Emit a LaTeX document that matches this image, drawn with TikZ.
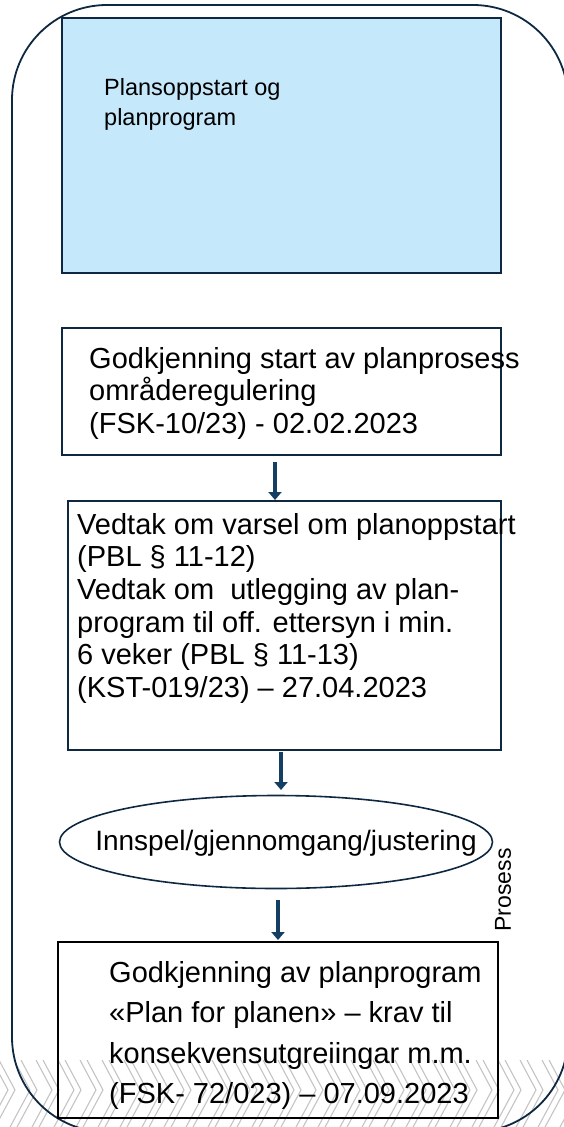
\documentclass[tikz,border=0pt]{standalone}
\usepackage{fontspec}
\setmainfont{Liberation Sans}
\usetikzlibrary{arrows.meta,shapes.geometric}
\definecolor{navy}{HTML}{0E2841}
\definecolor{lightblue}{HTML}{C5E8FA}
\definecolor{arrowblue}{HTML}{153E63}
\definecolor{hatchgray}{HTML}{C4C4C4}
\begin{document}
\begin{tikzpicture}[x=1pt,y=-1pt,
  procbox/.style={draw=navy, line width=1.6pt, inner sep=0pt},
  txt/.style={anchor=north west, inner sep=0pt, align=left},
  bigfont/.style={font=\fontsize{29}{32.6}\selectfont},
  flowarrow/.style={draw=arrowblue, line width=4.5pt, -{Triangle[width=13pt,length=8pt]}},
  hatchline/.style={draw=hatchgray, line width=1.1pt}]
\useasboundingbox (0,0) rectangle (564,1127);
% hatch band
\begin{scope}
\clip (0,1060) rectangle (564,1127);
\foreach \x in {-30,-8,...,580}{
  \draw[hatchline] (\x,1060) -- (\x+16,1090) -- (\x-5,1129);
  \draw[hatchline] (\x+7,1060) -- (\x+23,1090) -- (\x+2,1129);
}
\end{scope}
% outer frame
\draw[navy, line width=1.8pt, rounded corners=95pt] (12,5) rectangle (568,1132);
% boxes
\node[procbox, fill=lightblue, minimum width=439pt, minimum height=255pt] (b1) at (281.5,145.5) {};
\node[txt, font=\fontsize{23.5}{30.5}\selectfont] (t1) at (104,70) {\rule{0pt}{25pt}Plansoppstart og\\planprogram};
\node[procbox, minimum width=439pt, minimum height=127pt] (b2) at (281.5,391.5) {};
\node[txt, bigfont] (t2) at (89,343) {\rule{0pt}{25pt}Godkjenning start av planprosess\\områderegulering\\(FSK-10/23) - 02.02.2023};
\node[procbox, minimum width=433pt, minimum height=249pt] (b3) at (284.5,625.5) {};
\node[txt, bigfont] (t3) at (77,509) {\rule{0pt}{25pt}Vedtak om varsel om planoppstart\\(PBL § 11-12)\\Vedtak om~~utlegging av plan-\\program til off. ettersyn i min.\\6 veker (PBL § 11-13)\\(KST-019/23) – 27.04.2023};
\node[ellipse, draw=navy, line width=1.6pt, inner sep=0pt, minimum width=433pt, minimum height=93pt] (e) at (276,842) {};
\node[inner sep=0pt, font=\fontsize{28}{32}\selectfont] (te) at (286,843) {Innspel/gjennomgang/justering};
\node[rotate=90, inner sep=0pt, font=\fontsize{23}{27}\selectfont] (pr) at (503,890) {Prosess};
\node[draw=black, line width=1.8pt, inner sep=0pt, minimum width=440pt, minimum height=176pt] (b4) at (278,1030) {};
\node[txt, font=\fontsize{29}{40.5}\selectfont] (t4) at (109,957) {\rule{0pt}{25pt}Godkjenning av planprogram\\«Plan for planen» – krav til\\konsekvensutgreiingar m.m.\\(FSK- 72/023) – 07.09.2023};
% arrows
\coordinate (a1s) at (275,462);
\coordinate (a1e) at (275,500);
\coordinate (a2s) at (281,752);
\coordinate (a2e) at (281,790);
\coordinate (a3s) at (278,900);
\coordinate (a3e) at (278,940);
\draw[flowarrow] (a1s) -- (a1e);
\draw[flowarrow] (a2s) -- (a2e);
\draw[flowarrow] (a3s) -- (a3e);
\end{tikzpicture}
\end{document}
